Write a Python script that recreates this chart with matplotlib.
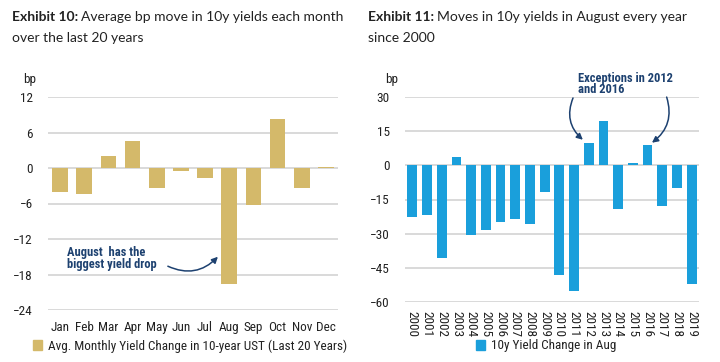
import matplotlib
matplotlib.use("Agg")
import matplotlib.pyplot as plt
from matplotlib.patches import Patch

months = ["Jan", "Feb", "Mar", "Apr", "May", "Jun", "Jul", "Aug", "Sep", "Oct", "Nov", "Dec"]
monthly_change = [-4.0, -4.35, 2.1, 4.55, -3.4, -0.55, -1.7, -19.55, -6.3, 8.3, -3.45, 0.2]

years = [str(y) for y in range(2000, 2020)]
aug_change = [-22.8, -21.9, -40.6, 3.9, -30.8, -28.5, -24.8, -23.7, -25.9, -11.8,
              -48.2, -55.3, 9.8, 19.6, -19.4, 1.0, 9.2, -18.0, -9.9, -52.3]

left_ticks = [12, 6, 0, -6, -12, -18, -24]
right_ticks = [30, 15, 0, -15, -30, -45, -60]

TAN = "#d4b96a"
BLUE = "#1a9fdb"
NAVY = "#1d4170"
GRID = "#d3d3d3"
TXT = "#222222"

narrow = ["Roboto Condensed", "Archivo Narrow", "DejaVu Sans"]
title_font = ["Lato", "DejaVu Sans"]
FS = 9.5

fig = plt.figure(figsize=(7.2, 3.62), dpi=100)

def style(ax, ticks):
    for s in ax.spines.values():
        s.set_visible(False)
    ax.set_yticks(ticks)
    ax.set_ylim(min(ticks), max(ticks))
    ax.yaxis.grid(True, color=GRID, linewidth=1.2)
    ax.set_axisbelow(True)
    ax.tick_params(axis="both", length=0, colors=TXT, labelsize=FS)
    ax.tick_params(axis="y", pad=11)
    for lab in ax.get_yticklabels() + ax.get_xticklabels():
        lab.set_family(narrow)

# Left chart
ax1 = fig.add_axes([48/720, 1-310/362, 290/720, 213/362])
x1 = range(len(months))
ax1.bar(x1, monthly_change, width=0.65, color=TAN)
ax1.set_xlim(-0.5, len(months) - 0.5)
ax1.set_xticks(list(x1))
ax1.set_xticklabels(months)
style(ax1, left_ticks)
ax1.tick_params(axis="x", pad=8)
ax1.text(0.29, -15.3, "August  has the\nbiggest yield drop", ha="left", va="center",
         fontsize=9, fontweight="bold", color=NAVY, family=narrow, linespacing=0.85)
ax1.annotate("", xy=(6.53, -15.0), xytext=(4.46, -16.6), annotation_clip=False,
             arrowprops=dict(arrowstyle="-|>", color=NAVY, lw=1.1, mutation_scale=9,
                             connectionstyle="arc3,rad=0.35", shrinkA=0, shrinkB=0))

# Right chart
ax2 = fig.add_axes([405/720, 1-301.7/362, 294/720, 204.4/362])
x2 = range(len(years))
ax2.bar(x2, aug_change, width=0.66, color=BLUE)
ax2.set_xlim(-0.5, len(years) - 0.5)
ax2.set_xticks(list(x2))
ax2.set_xticklabels(years, rotation=-90)
style(ax2, right_ticks)
ax2.tick_params(axis="x", pad=7)
ax2.text(11.27, 35.8, "Exceptions in 2012\nand 2016", ha="left", va="center", fontsize=9,
         fontweight="bold", color=NAVY, family=narrow, linespacing=0.85, clip_on=False)
for start, end, rad in [((10.93, 29.7), (11.6, 11.3), 0.35), ((17.3, 30.1), (16.3, 10.0), -0.35)]:
    ax2.annotate("", xy=end, xytext=start, annotation_clip=False,
                 arrowprops=dict(arrowstyle="-|>", color=NAVY, lw=1.1, mutation_scale=9,
                                 connectionstyle=f"arc3,rad={rad}", shrinkA=0, shrinkB=0))

# bp labels
fig.text(30/720, 1-80/362, "bp", ha="center", va="center", fontsize=FS, color=TXT, family=narrow)
fig.text(392/720, 1-80/362, "bp", ha="center", va="center", fontsize=FS, color=TXT, family=narrow)

# Titles
def title(x, bold, rest, line2):
    t = fig.text(x/720, 1-17/362, bold, ha="left", va="center", fontsize=10, fontweight="bold",
                 color=TXT, family=title_font)
    fig.canvas.draw()
    bb = t.get_window_extent()
    fig.text(bb.x1/720 + 3/720, 1-17/362, rest, ha="left", va="center", fontsize=10,
             color=TXT, family=title_font)
    fig.text(x/720, 1-38/362, line2, ha="left", va="center", fontsize=10,
             color=TXT, family=title_font)

title(12, "Exhibit 10:", "Average bp move in 10y yields each month", "over the last 20 years")
title(368, "Exhibit 11:", "Moves in 10y yields in August every year", "since 2000")

# Legends
fig.legend(handles=[Patch(color=TAN, label="Avg. Monthly Yield Change in 10-year UST (Last 20 Years)")],
           loc="center", bbox_to_anchor=(190/720, 1-346/362), frameon=False,
           handlelength=0.7, handleheight=0.7, handletextpad=0.4,
           prop={"family": narrow, "size": FS}, labelcolor=TXT)
fig.legend(handles=[Patch(color=BLUE, label="10y Yield Change in Aug")],
           loc="center", bbox_to_anchor=(546/720, 1-346/362), frameon=False,
           handlelength=0.7, handleheight=0.7, handletextpad=0.4,
           prop={"family": narrow, "size": FS}, labelcolor=TXT)

fig.savefig("out.png", dpi=100)
